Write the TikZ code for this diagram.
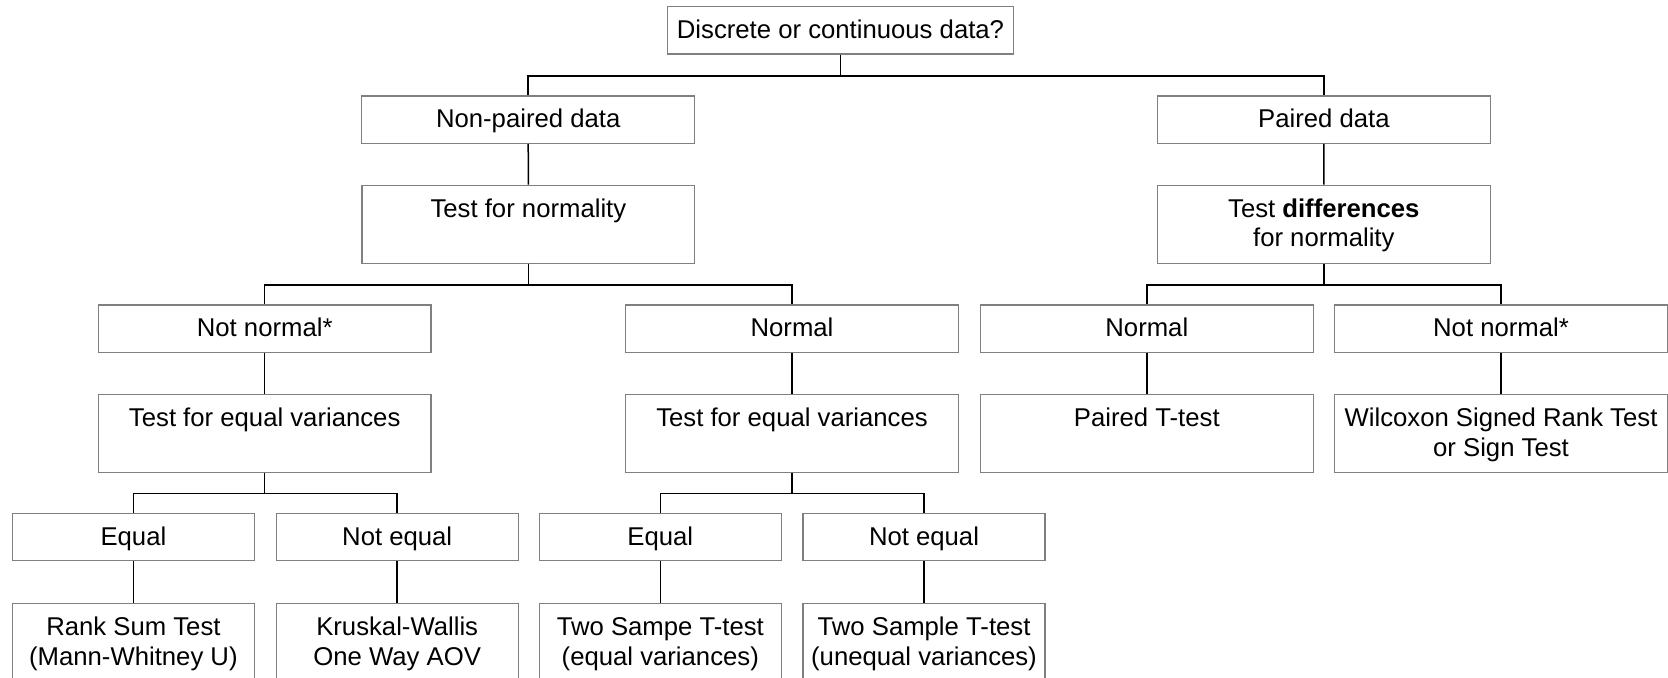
\documentclass[tikz,border=0pt]{standalone}
\usepackage{fontspec}
\setmainfont{Liberation Sans}
\definecolor{boxline}{RGB}{128,128,128}
% line strut: 11pt above the baseline, 3pt below
\newcommand\lnstrut{\rule[-3pt]{0pt}{14pt}}
\tikzset{
  box/.style={draw=boxline, line width=0.65pt, rectangle, inner sep=0pt,
    align=center, font=\fontsize{12.85pt}{14.8pt}\selectfont,
    minimum width=166.4pt},
  low/.style={minimum height=23.6pt},
  tall/.style={minimum height=39pt},
  narrow/.style={minimum width=121pt},
  conn/.style={draw=black, line width=0.75pt},
}
\begin{document}
\begin{tikzpicture}[x=0.5pt, y=-0.5pt]
\useasboundingbox (0,0) rectangle (1668,678);
\clip (0,0) rectangle (1668,678);

% first split
\node[box, low, minimum width=172.8pt] (start) at (840.5,30.4) {Discrete or continuous data?\lnstrut};
\node[box, low] (nonpaired) at (528.2,119.6) {Non-paired data\lnstrut};
\node[box, low] (paired) at (1323.9,119.6) {Paired data\lnstrut};

% normality tests
\node[box, tall] (testnorm) at (528.4,224.2) {Test for normality\lnstrut\\\lnstrut};
\node[box, tall] (testdiff) at (1323.8,224.2) {Test \textbf{differences}\lnstrut\\for normality\lnstrut};

% outcome of normality tests
\node[box, low] (notnormL) at (264.7,328.7) {Not normal*\lnstrut};
\node[box, low] (normalM) at (792,328.7) {Normal\lnstrut};
\node[box, low] (normalR) at (1146.8,328.7) {Normal\lnstrut};
\node[box, low] (notnormR) at (1501,328.7) {Not normal*\lnstrut};

% variance tests and paired tests
\node[box, tall] (vartestL) at (264.7,433.2) {Test for equal variances\lnstrut\\\lnstrut};
\node[box, tall] (vartestM) at (792,433.2) {Test for equal variances\lnstrut\\\lnstrut};
\node[box, tall] (pairedT) at (1146.8,433.2) {Paired T-test\lnstrut\\\lnstrut};
\node[box, tall] (wilcoxon) at (1501,433.2) {Wilcoxon Signed Rank Test\lnstrut\\or Sign Test\lnstrut};

% variance outcomes
\node[box, low, narrow] (equalL) at (133.4,537) {Equal\lnstrut};
\node[box, low, narrow] (noteqL) at (397.2,537) {Not equal\lnstrut};
\node[box, low, narrow] (equalM) at (660.3,537) {Equal\lnstrut};
\node[box, low, narrow] (noteqM) at (924,537) {Not equal\lnstrut};

% final tests
\node[box, tall, narrow] (ranksum) at (133.4,642.3) {Rank Sum Test\lnstrut\\(Mann-Whitney U)\lnstrut};
\node[box, tall, narrow] (kruskal) at (397.2,642.3) {Kruskal-Wallis\lnstrut\\One Way AOV\lnstrut};
\node[box, tall, narrow] (ttesteq) at (660.3,642.3) {Two Sampe T-test\lnstrut\\(equal variances)\lnstrut};
\node[box, tall, narrow] (ttestuneq) at (924,642.3) {Two Sample T-test\lnstrut\\(unequal variances)\lnstrut};

% branching connectors
\draw[conn] (start.south) -- ++(0,21.2) -| (nonpaired.north);
\draw[conn] (start.south) -- ++(0,21.2) -| (paired.north);
\draw[conn] (testnorm.south) -- ++(0,21) -| (notnormL.north);
\draw[conn] (testnorm.south) -- ++(0,21) -| (normalM.north);
\draw[conn] (testdiff.south) -- ++(0,21) -| (normalR.north);
\draw[conn] (testdiff.south) -- ++(0,21) -| (notnormR.north);
\draw[conn] (vartestL.south) -- ++(0,20.7) -| (equalL.north);
\draw[conn] (vartestL.south) -- ++(0,20.7) -| (noteqL.north);
\draw[conn] (vartestM.south) -- ++(0,20.7) -| (equalM.north);
\draw[conn] (vartestM.south) -- ++(0,20.7) -| (noteqM.north);

% straight connectors
\draw[conn] (nonpaired.south) -- (testnorm.north);
\draw[conn] (paired.south) -- (testdiff.north);
\draw[conn] (notnormL.south) -- (vartestL.north);
\draw[conn] (normalM.south) -- (vartestM.north);
\draw[conn] (normalR.south) -- (pairedT.north);
\draw[conn] (notnormR.south) -- (wilcoxon.north);
\draw[conn] (equalL.south) -- (ranksum.north);
\draw[conn] (noteqL.south) -- (kruskal.north);
\draw[conn] (equalM.south) -- (ttesteq.north);
\draw[conn] (noteqM.south) -- (ttestuneq.north);
\end{tikzpicture}
\end{document}
